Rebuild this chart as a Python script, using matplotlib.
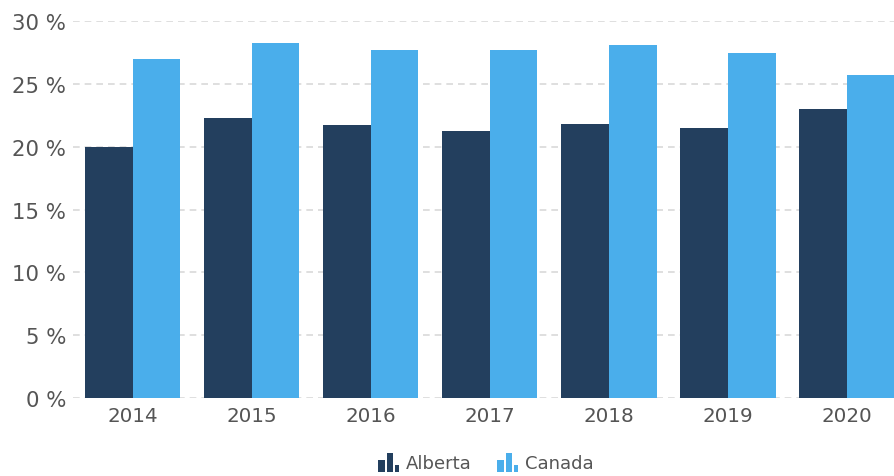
import matplotlib
matplotlib.use("Agg")
import matplotlib.pyplot as plt
import numpy as np
from matplotlib.legend_handler import HandlerBase
from matplotlib.patches import Rectangle

plt.rcParams['font.family'] = ['DejaVu Sans']

years = ["2014", "2015", "2016", "2017", "2018", "2019", "2020"]
alberta = [20.0, 22.3, 21.75, 21.25, 21.8, 21.5, 23.0]
canada = [27.0, 28.3, 27.7, 27.7, 28.1, 27.45, 25.7]
yticks = [0, 5, 10, 15, 20, 25, 30]
series_names = ["Alberta", "Canada"]
colors = ["#233f5e", "#4aaeeb"]
text_color = "#555555"

fig = plt.figure(figsize=(8.95, 4.77), dpi=100)
ax = fig.add_axes([73/895, 1-399/477, 822/895, (399-22.3)/477])

x = np.arange(len(years))
w = 0.403
b1 = ax.bar(x - w/2, alberta, width=w, color=colors[0], label=series_names[0], zorder=3)
b2 = ax.bar(x + w/2, canada, width=w, color=colors[1], label=series_names[1], zorder=3)

ax.set_xlim(-0.5, 6.407)
ax.set_ylim(0, 30)
ax.set_yticks(yticks)
ax.set_yticklabels([f"{v} %" for v in yticks])
ax.set_xticks(x)
ax.set_xticklabels(years)
for s in ax.spines.values():
    s.set_visible(False)
ax.yaxis.grid(True, color="#d9d9d9", linestyle=(0, (4, 3)), linewidth=1.2, zorder=0)
ax.tick_params(axis="y", length=0, pad=5, labelsize=15.3, labelcolor=text_color)
ax.tick_params(axis="x", length=0, pad=6, labelsize=14.3, labelcolor=text_color)


class BarIconHandler(HandlerBase):
    def create_artists(self, legend, orig_handle, xdescent, ydescent, width, height, fontsize, trans):
        color = orig_handle.patches[0].get_facecolor()
        specs = [(0.0, 0.32, 0.63), (0.44, 0.32, 1.0), (0.84, 0.22, 0.37)]
        arts = []
        base = -ydescent - height * 0.15
        for x0, bw, h in specs:
            r = Rectangle((-xdescent + x0 * width, base), bw * width, height * 1.2 * h,
                          facecolor=color, edgecolor="none", transform=trans)
            arts.append(r)
        return arts


leg = ax.legend([b1, b2], series_names, handler_map={type(b1): BarIconHandler()},
                loc="center", bbox_to_anchor=(486/895, 1-464/477), bbox_transform=fig.transFigure,
                ncol=2, frameon=False, fontsize=13, handlelength=1.1, handleheight=1.0,
                handletextpad=0.45, columnspacing=1.4)
for t in leg.get_texts():
    t.set_color(text_color)

fig.savefig("out.png", dpi=100)
